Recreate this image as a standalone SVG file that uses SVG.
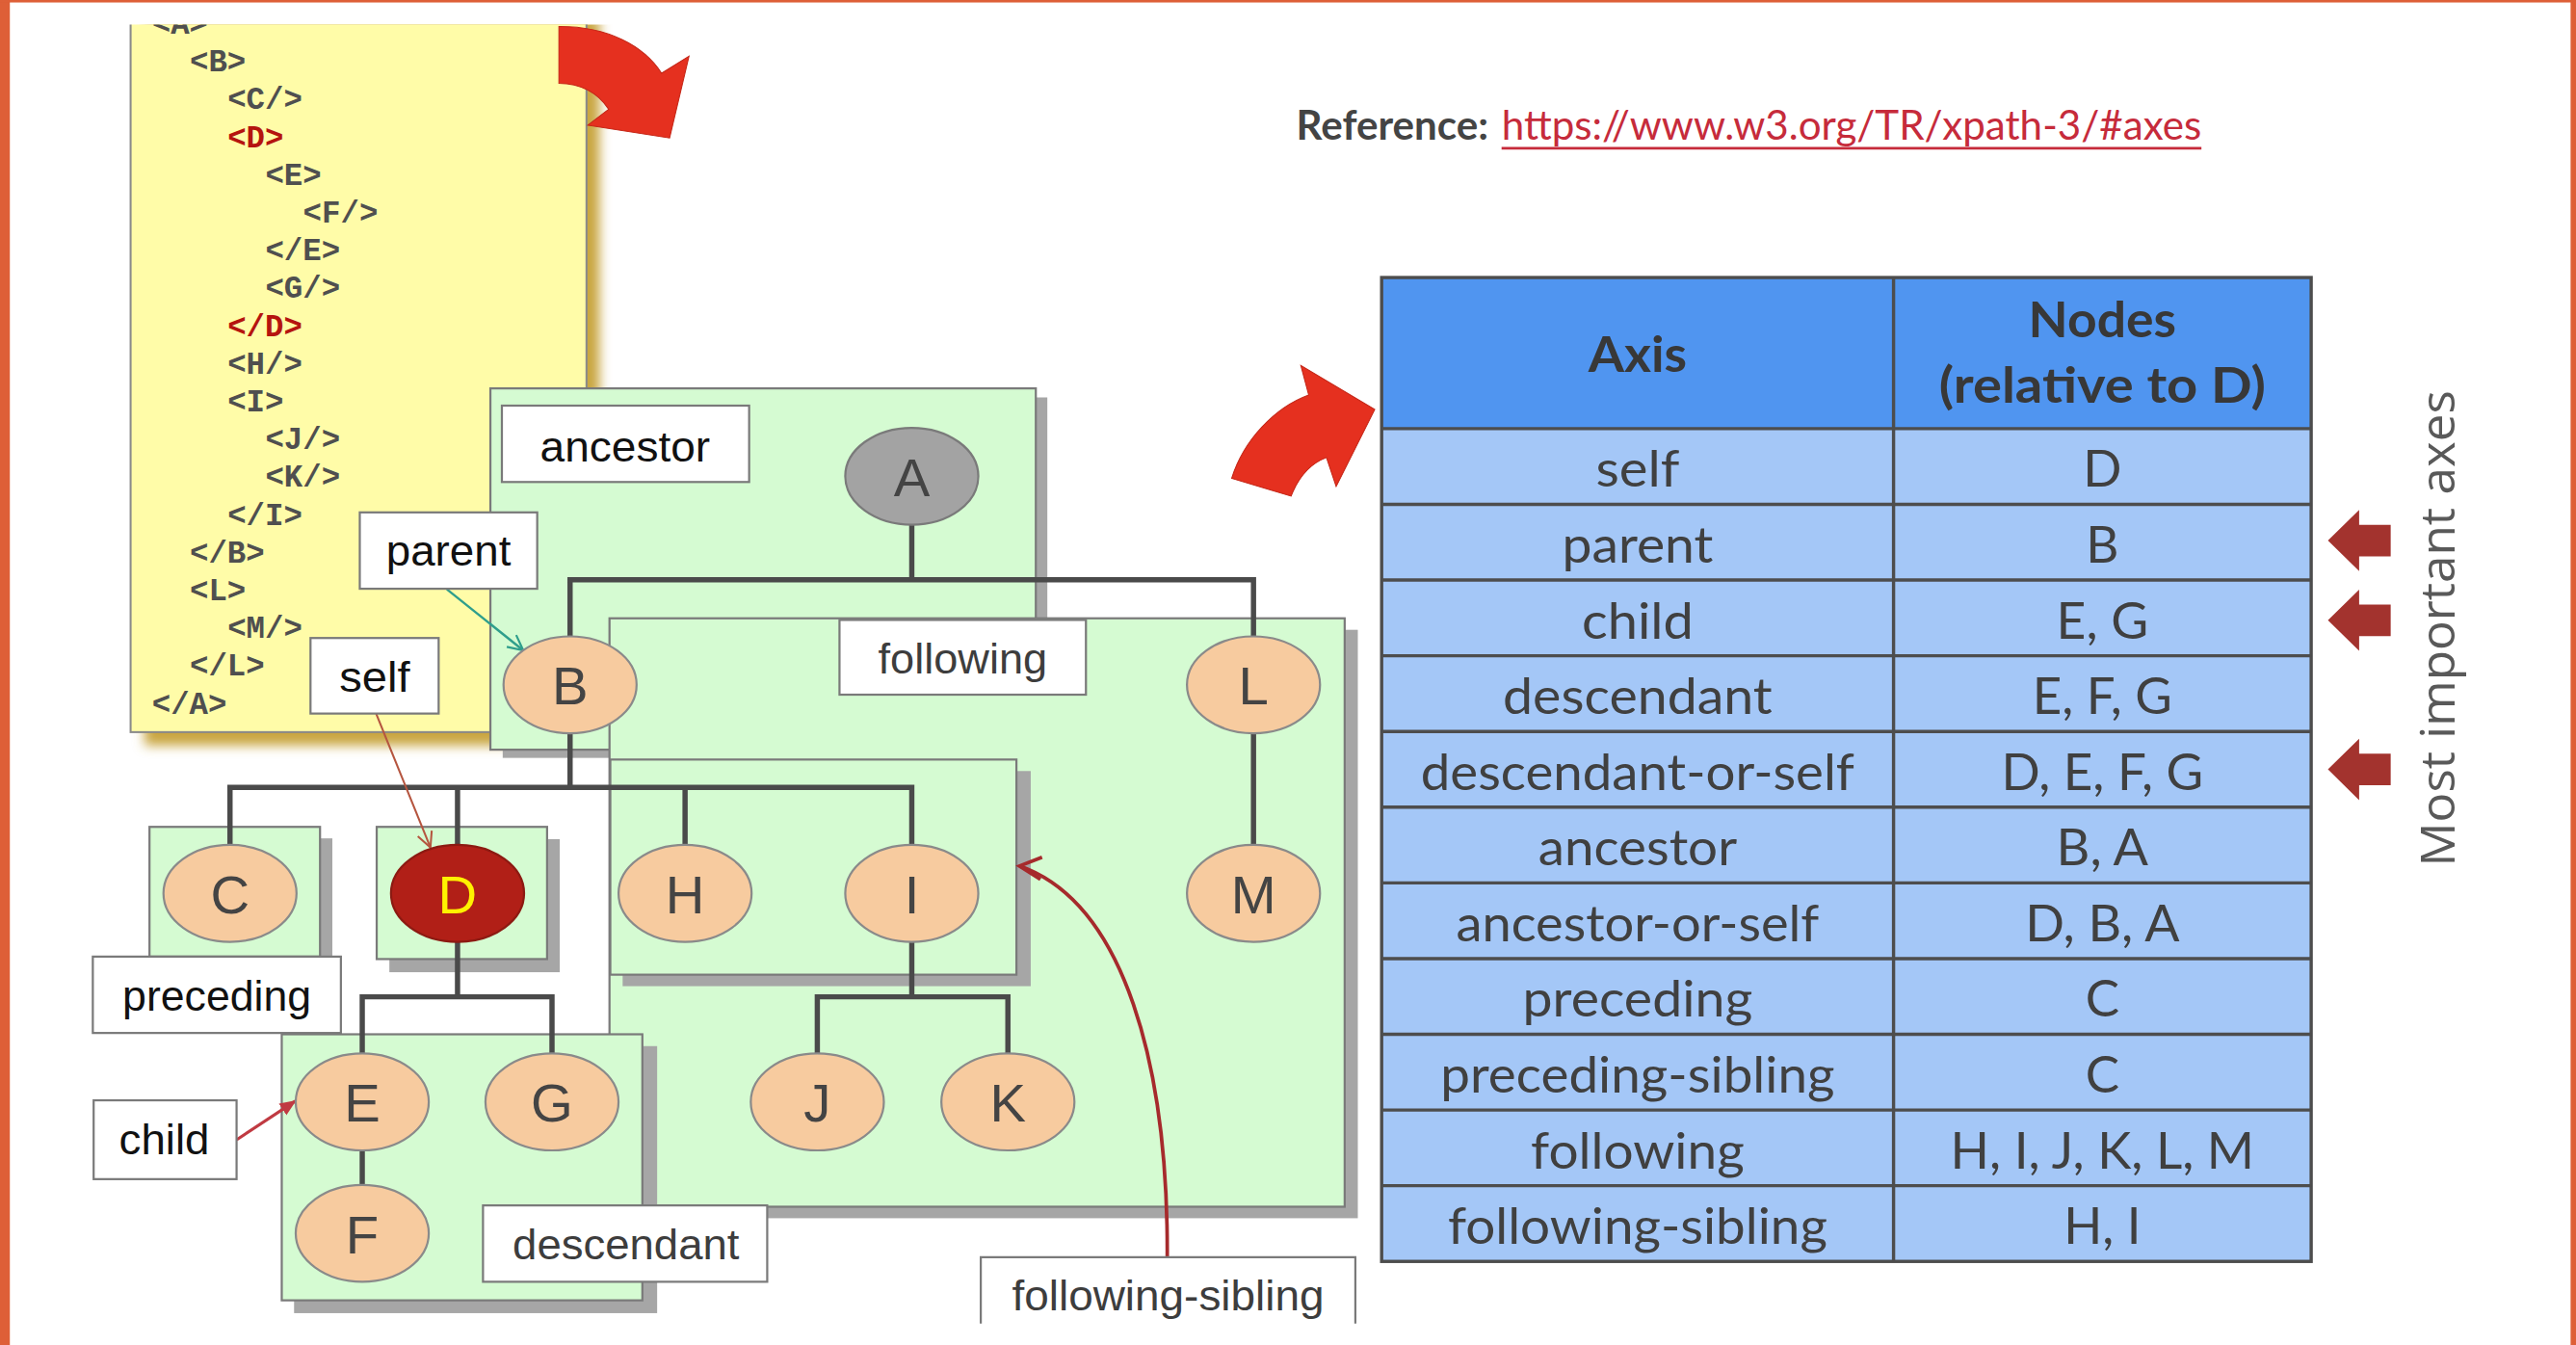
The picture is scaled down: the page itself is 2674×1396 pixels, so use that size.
<svg xmlns="http://www.w3.org/2000/svg" width="2674" height="1396" viewBox="0 0 2674 1396">
<defs>
<style>
.code{font-family:"Liberation Mono","Courier New",monospace;font-weight:bold;font-size:19px;fill:#4f4f4f}
.code.red{fill:#b5140f}
.grn{fill:#d5fbd2;stroke:#7a7a7a;stroke-width:1.3}
.shd{fill:#a6a6a6}
.lbl{fill:#ffffff;stroke:#7a7a7a;stroke-width:1.3}
.lt{font-family:"Liberation Sans",Arial,sans-serif;font-size:26.5px;text-anchor:middle;fill:#111111}
.lt.g{fill:#3d3d3d}
.nd{fill:#f7cb9f;stroke:#8a8a8a;stroke-width:1.3}
.nt{font-family:"Liberation Sans",Arial,sans-serif;font-size:33px;text-anchor:middle;fill:#444444}
.edge{stroke:#4a4a4a;stroke-width:3.2;fill:none;stroke-linejoin:miter}
.tt{font-family:Lato,"Open Sans",sans-serif;font-size:31px;fill:#404040;text-anchor:middle}
.th{font-family:Lato,"Open Sans",sans-serif;font-size:30px;font-weight:bold;fill:#383838;text-anchor:middle}
.grid{stroke:#4d4d4d;stroke-width:2;fill:none}
.bigarrow{fill:#e5301f;stroke:#c42617;stroke-width:0.6}
.imp{fill:#a3332e}
</style>
<clipPath id="slideTop"><rect x="0" y="15" width="1568" height="800"/></clipPath>
<filter id="blur" x="-20%" y="-20%" width="140%" height="140%"><feGaussianBlur stdDeviation="3.5"/></filter>
<marker id="mTeal" viewBox="0 0 12 12" refX="11" refY="6" markerWidth="11" markerHeight="11" markerUnits="userSpaceOnUse" orient="auto"><path d="M1,1 L11,6 L1,11" fill="none" stroke="#2f9e8c" stroke-width="1.4"/></marker>
<marker id="mBrown" viewBox="0 0 12 12" refX="11" refY="6" markerWidth="11" markerHeight="11" markerUnits="userSpaceOnUse" orient="auto"><path d="M1,1 L11,6 L1,11" fill="none" stroke="#b5553f" stroke-width="1.3"/></marker>
<marker id="mRed" viewBox="0 0 12 12" refX="11" refY="6" markerWidth="10" markerHeight="10" markerUnits="userSpaceOnUse" orient="auto"><path d="M0,1 L12,6 L0,11 Z" fill="#c03a42"/></marker>
</defs>
<rect x="0" y="0" width="2674" height="1396" fill="#ffffff"/>
<g transform="scale(1.70536 1.70452)">
  <!-- window border -->
  <g id="frame">
    <rect x="0" y="0" width="6" height="819" fill="#de5f37"/>
    <rect x="0" y="0" width="1568" height="1.5" fill="#de5f37"/>
    <rect x="1564.7" y="0" width="3.3" height="819" fill="#de5f37"/>
  </g>

  <!-- XML code box -->
  <g id="codebox" clip-path="url(#slideTop)">
    <rect x="88" y="10" width="277" height="444" fill="#c9a640" filter="url(#blur)"/>
    <rect x="79.5" y="5" width="277.5" height="440.8" fill="#fffca8" stroke="#8a8a8a" stroke-width="1.2"/>
    <text class="code" x="92.5" y="20.5">&lt;A&gt;</text>
    <text class="code" x="115.5" y="43.5">&lt;B&gt;</text>
    <text class="code" x="138.5" y="66.5">&lt;C/&gt;</text>
    <text class="code red" x="138.5" y="89.5">&lt;D&gt;</text>
    <text class="code" x="161.5" y="112.5">&lt;E&gt;</text>
    <text class="code" x="184.5" y="135.5">&lt;F/&gt;</text>
    <text class="code" x="161.5" y="158.5">&lt;/E&gt;</text>
    <text class="code" x="161.5" y="181.5">&lt;G/&gt;</text>
    <text class="code red" x="138.5" y="204.5">&lt;/D&gt;</text>
    <text class="code" x="138.5" y="227.5">&lt;H/&gt;</text>
    <text class="code" x="138.5" y="250.5">&lt;I&gt;</text>
    <text class="code" x="161.5" y="273.5">&lt;J/&gt;</text>
    <text class="code" x="161.5" y="296.5">&lt;K/&gt;</text>
    <text class="code" x="138.5" y="319.5">&lt;/I&gt;</text>
    <text class="code" x="115.5" y="342.5">&lt;/B&gt;</text>
    <text class="code" x="115.5" y="365.5">&lt;L&gt;</text>
    <text class="code" x="138.5" y="388.5">&lt;M/&gt;</text>
    <text class="code" x="115.5" y="411.5">&lt;/L&gt;</text>
    <text class="code" x="92.5" y="434.5">&lt;/A&gt;</text>
  </g>

  <!-- big red curved arrows -->
  <g id="arrow-top">
    <path class="bigarrow" d="M340.2,16.2 C370,16 392,28 402.7,44.6 L419.4,34.2 L407.6,84 L357.8,76.2 L370.5,66.5 Q360,51 340.2,50.8 Z"/>
  </g>
  <g id="arrow-table">
    <path class="bigarrow" d="M749.7,291.3 C757,268 776,248 796.6,240.5 L791.8,222.5 L836.8,249.3 L813.3,296.2 L807.4,278.6 Q793,284 785.9,302.1 Z"/>
  </g>

  <!-- reference line -->
  <g id="reference">
    <text x="789" y="85" font-family="Lato,'Open Sans',sans-serif" font-size="24.5" font-weight="bold" fill="#444444" textLength="117" lengthAdjust="spacingAndGlyphs">Reference:</text>
    <text x="914" y="85" font-family="Lato,'Open Sans',sans-serif" font-size="24.5" fill="#c62b3b" textLength="426" lengthAdjust="spacingAndGlyphs">https://www.w3.org/TR/xpath-3/#axes</text>
    <line x1="914" y1="90.3" x2="1340" y2="90.3" stroke="#c62b3b" stroke-width="1.6"/>
  </g>

  <!-- green axis regions -->
  <g id="region-ancestor">
    <rect class="shd" x="306" y="242" width="331.5" height="219.5"/>
    <rect class="grn" x="298.5" y="236.5" width="332" height="220"/>
  </g>
  <g id="region-following">
    <rect class="shd" x="378.5" y="383.5" width="448" height="358.3"/>
    <rect class="grn" x="371" y="376.5" width="447.5" height="358.3"/>
  </g>
  <g id="region-following-sibling">
    <rect class="shd" x="379" y="469.5" width="248.4" height="131"/>
    <rect class="grn" x="371.5" y="462.5" width="247.2" height="131"/>
  </g>
  <g id="region-preceding">
    <rect class="shd" x="98.5" y="510.5" width="103.8" height="79"/>
    <rect class="grn" x="91" y="503.5" width="103.8" height="79"/>
  </g>
  <g id="region-self">
    <rect class="shd" x="237" y="511" width="103.7" height="81"/>
    <rect class="grn" x="229.3" y="503.5" width="103.7" height="80.5"/>
  </g>
  <g id="region-descendant">
    <rect class="shd" x="179" y="637" width="221" height="162.6"/>
    <rect class="grn" x="171.5" y="629.8" width="219.5" height="162"/>
  </g>

  <!-- connectors -->
  <g id="connectors">
    <path class="edge" d="M555,319.5 V353 M347,387.5 V353 H763 V387.5"/>
    <path class="edge" d="M347,446.5 V479.5 M140,514.5 V479.5 H555 V514.5 M278.5,479.5 V514.5 M417,479.5 V514.5"/>
    <path class="edge" d="M763,446.5 V514.5"/>
    <path class="edge" d="M278.5,573.5 V607 M220.5,641.5 V607 H336 V641.5"/>
    <path class="edge" d="M555,573.5 V607 M497.5,641.5 V607 H613.5 V641.5"/>
    <path class="edge" d="M220.5,700.5 V721.5"/>
    <line x1="272" y1="358.8" x2="318.5" y2="396" stroke="#2f9e8c" stroke-width="1.4" marker-end="url(#mTeal)"/>
    <line x1="229" y1="434.7" x2="262" y2="516" stroke="#b5553f" stroke-width="1.2" marker-end="url(#mBrown)"/>
    <line x1="144" y1="694" x2="179.7" y2="670.5" stroke="#c03a42" stroke-width="1.8" marker-end="url(#mRed)"/>
    <path d="M710.5,765 C711,650 685,550 620.6,527.3" fill="none" stroke="#a62a2c" stroke-width="2.2"/>
    <path d="M634.3,522 L620.6,527.3 L633.3,535.4" fill="none" stroke="#a62a2c" stroke-width="2.2" stroke-linejoin="miter"/>
  </g>

  <!-- tree nodes -->
  <g id="node-A"><ellipse cx="555" cy="290" rx="40.5" ry="29.5" fill="#a3a3a3" stroke="#7a7a7a" stroke-width="1.3"/><text class="nt" x="555" y="302">A</text></g>
  <g id="node-B"><ellipse class="nd" cx="347" cy="417" rx="40.5" ry="29.5"/><text class="nt" x="347" y="429">B</text></g>
  <g id="node-L"><ellipse class="nd" cx="763" cy="417" rx="40.5" ry="29.5"/><text class="nt" x="763" y="429">L</text></g>
  <g id="node-C"><ellipse class="nd" cx="140" cy="544" rx="40.5" ry="29.5"/><text class="nt" x="140" y="556">C</text></g>
  <g id="node-D"><ellipse cx="278.5" cy="544" rx="40.5" ry="29.5" fill="#b11f17" stroke="#8c1a12" stroke-width="1.3"/><text class="nt" x="278.5" y="556" fill="#fff200" style="fill:#fff200">D</text></g>
  <g id="node-H"><ellipse class="nd" cx="417" cy="544" rx="40.5" ry="29.5"/><text class="nt" x="417" y="556">H</text></g>
  <g id="node-I"><ellipse class="nd" cx="555" cy="544" rx="40.5" ry="29.5"/><text class="nt" x="555" y="556">I</text></g>
  <g id="node-M"><ellipse class="nd" cx="763" cy="544" rx="40.5" ry="29.5"/><text class="nt" x="763" y="556">M</text></g>
  <g id="node-E"><ellipse class="nd" cx="220.5" cy="671" rx="40.5" ry="29.5"/><text class="nt" x="220.5" y="683">E</text></g>
  <g id="node-G"><ellipse class="nd" cx="336" cy="671" rx="40.5" ry="29.5"/><text class="nt" x="336" y="683">G</text></g>
  <g id="node-J"><ellipse class="nd" cx="497.5" cy="671" rx="40.5" ry="29.5"/><text class="nt" x="497.5" y="683">J</text></g>
  <g id="node-K"><ellipse class="nd" cx="613.5" cy="671" rx="40.5" ry="29.5"/><text class="nt" x="613.5" y="683">K</text></g>
  <g id="node-F"><ellipse class="nd" cx="220.5" cy="751" rx="40.5" ry="29.5"/><text class="nt" x="220.5" y="763">F</text></g>

  <!-- axis labels -->
  <g id="label-ancestor"><rect class="lbl" x="305.5" y="247" width="150.5" height="46.5"/><text class="lt" x="380.5" y="281" textLength="103.5" lengthAdjust="spacingAndGlyphs">ancestor</text></g>
  <g id="label-parent"><rect class="lbl" x="219" y="312" width="108" height="46.5"/><text class="lt" x="273" y="344.5" textLength="76" lengthAdjust="spacingAndGlyphs">parent</text></g>
  <g id="label-self"><rect class="lbl" x="189" y="388.5" width="78" height="46"/><text class="lt" x="228" y="421" textLength="43" lengthAdjust="spacingAndGlyphs">self</text></g>
  <g id="label-following"><rect class="lbl" x="511" y="377.5" width="150" height="45.5"/><text class="lt g" x="586" y="410" textLength="103" lengthAdjust="spacingAndGlyphs">following</text></g>
  <g id="label-preceding"><rect class="lbl" x="56.5" y="582.5" width="151" height="46.5"/><text class="lt" x="132" y="615.6" textLength="115" lengthAdjust="spacingAndGlyphs">preceding</text></g>
  <g id="label-child"><rect class="lbl" x="57" y="670" width="87" height="48"/><text class="lt" x="100" y="703" textLength="55" lengthAdjust="spacingAndGlyphs">child</text></g>
  <g id="label-descendant"><rect class="lbl" x="294" y="734" width="173" height="46.5"/><text class="lt g" x="381" y="766.6" textLength="138" lengthAdjust="spacingAndGlyphs">descendant</text></g>
  <g id="label-following-sibling"><rect x="597" y="765.5" width="228" height="40.5" fill="#ffffff"/><path d="M597,806 V765.5 H825 V806" fill="none" stroke="#7a7a7a" stroke-width="1.3"/><text class="lt g" x="711" y="798" textLength="190" lengthAdjust="spacingAndGlyphs">following-sibling</text></g>

  <!-- axes table -->
  <g id="axes-table">
    <rect x="841" y="169" width="565.8" height="92" fill="#5095f0"/>
    <rect x="841" y="261" width="565.8" height="507.1" fill="#a4c7f7"/>
    <rect class="grid" x="841" y="169" width="565.8" height="599.1"/>
    <line class="grid" x1="1152.6" y1="169" x2="1152.6" y2="768.1"/>
    <line class="grid" x1="841" y1="261" x2="1406.8" y2="261" stroke-width="2.6"/>
    <path class="grid" d="M841,307.1 H1406.8 M841,353.2 H1406.8 M841,399.3 H1406.8 M841,445.4 H1406.8 M841,491.5 H1406.8 M841,537.6 H1406.8 M841,583.7 H1406.8 M841,629.8 H1406.8 M841,675.9 H1406.8 M841,722 H1406.8"/>
    <text class="th" x="996.8" y="226.5" textLength="60" lengthAdjust="spacingAndGlyphs">Axis</text>
    <text class="th" x="1279.7" y="205.5" textLength="90" lengthAdjust="spacingAndGlyphs">Nodes</text>
    <text class="th" x="1279.7" y="245.5" textLength="199" lengthAdjust="spacingAndGlyphs">(relative to D)</text>

    <text class="tt" x="996.8" y="296.5" textLength="51" lengthAdjust="spacingAndGlyphs">self</text>
    <text class="tt" x="1279.7" y="296.5">D</text>
    <text class="tt" x="996.8" y="342.6" textLength="92" lengthAdjust="spacingAndGlyphs">parent</text>
    <text class="tt" x="1279.7" y="342.6">B</text>
    <text class="tt" x="996.8" y="388.7" textLength="68" lengthAdjust="spacingAndGlyphs">child</text>
    <text class="tt" x="1279.7" y="388.7" textLength="56" lengthAdjust="spacingAndGlyphs">E, G</text>
    <text class="tt" x="996.8" y="434.8" textLength="164" lengthAdjust="spacingAndGlyphs">descendant</text>
    <text class="tt" x="1279.7" y="434.8" textLength="85" lengthAdjust="spacingAndGlyphs">E, F, G</text>
    <text class="tt" x="996.8" y="480.9" textLength="264" lengthAdjust="spacingAndGlyphs">descendant-or-self</text>
    <text class="tt" x="1279.7" y="480.9" textLength="123" lengthAdjust="spacingAndGlyphs">D, E, F, G</text>
    <text class="tt" x="996.8" y="527" textLength="121" lengthAdjust="spacingAndGlyphs">ancestor</text>
    <text class="tt" x="1279.7" y="527" textLength="56" lengthAdjust="spacingAndGlyphs">B, A</text>
    <text class="tt" x="996.8" y="573.1" textLength="221" lengthAdjust="spacingAndGlyphs">ancestor-or-self</text>
    <text class="tt" x="1279.7" y="573.1" textLength="94" lengthAdjust="spacingAndGlyphs">D, B, A</text>
    <text class="tt" x="996.8" y="619.2" textLength="140" lengthAdjust="spacingAndGlyphs">preceding</text>
    <text class="tt" x="1279.7" y="619.2">C</text>
    <text class="tt" x="996.8" y="665.3" textLength="240" lengthAdjust="spacingAndGlyphs">preceding-sibling</text>
    <text class="tt" x="1279.7" y="665.3">C</text>
    <text class="tt" x="996.8" y="711.4" textLength="130" lengthAdjust="spacingAndGlyphs">following</text>
    <text class="tt" x="1279.7" y="711.4" textLength="185" lengthAdjust="spacingAndGlyphs">H, I, J, K, L, M</text>
    <text class="tt" x="996.8" y="757.5" textLength="231" lengthAdjust="spacingAndGlyphs">following-sibling</text>
    <text class="tt" x="1279.7" y="757.5" textLength="47" lengthAdjust="spacingAndGlyphs">H, I</text>
  </g>

  <!-- most important axes markers -->
  <g id="important-arrows">
    <path class="imp" d="M1417,329.1 L1436,310.5 L1436,319.6 L1455.2,319.6 L1455.2,338.8 L1436,338.8 L1436,347.8 Z"/>
    <path class="imp" d="M1417,377.6 L1436,359 L1436,368.1 L1455.2,368.1 L1455.2,387.3 L1436,387.3 L1436,396.3 Z"/>
    <path class="imp" d="M1417,468.5 L1436,449.9 L1436,459 L1455.2,459 L1455.2,478.2 L1436,478.2 L1436,487.2 Z"/>
    <text transform="translate(1494,382.7) rotate(-90)" x="0" y="0" font-family="'Open Sans','Noto Sans',sans-serif" font-size="29" fill="#595959" text-anchor="middle" textLength="290" lengthAdjust="spacingAndGlyphs">Most important axes</text>
  </g>
</g>
</svg>
